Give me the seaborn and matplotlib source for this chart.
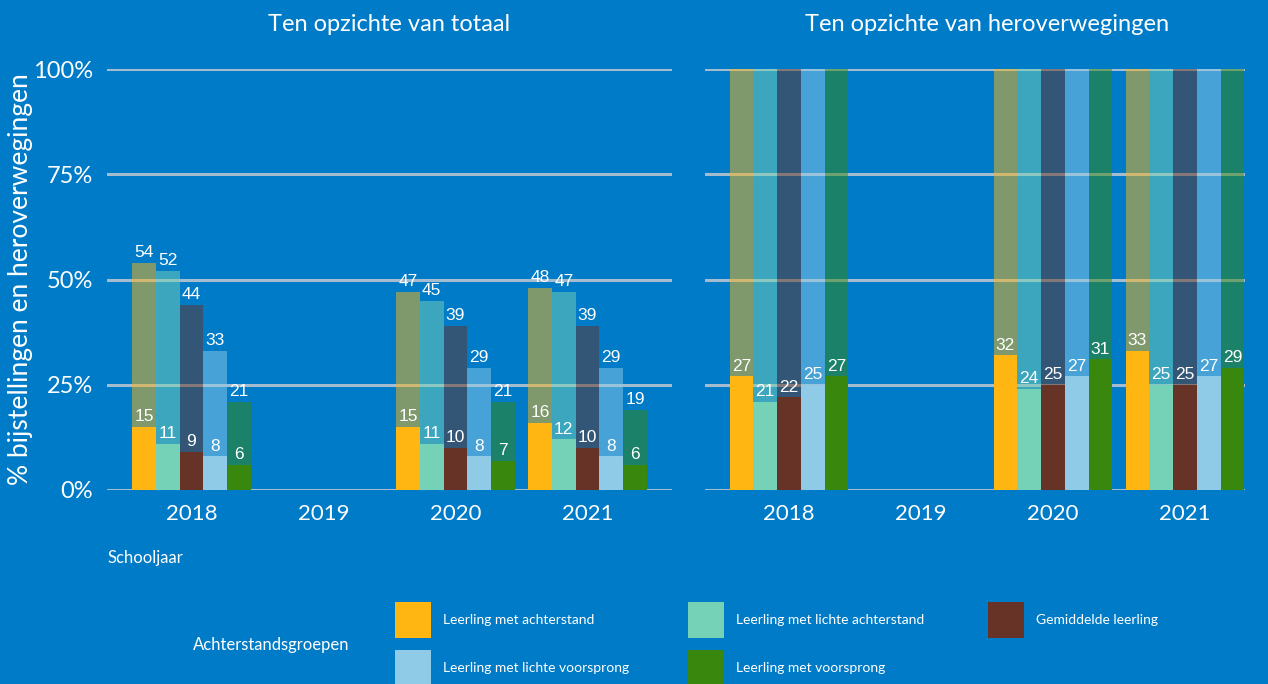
import pandas as pd
import matplotlib.pyplot as plt
import seaborn as sns
from matplotlib.patches import Rectangle

# Data
years = ["2018", "2019", "2020", "2021"]
groups = ["Leerling met achterstand", "Leerling met lichte achterstand", "Gemiddelde leerling",
          "Leerling met lichte voorsprong", "Leerling met voorsprong"]
colors = ["#ffb612", "#76d2b6", "#673327", "#8fcae7", "#39870c"]

data_years = ["2018", "2020", "2021"]
# left panel: % heroverwegingen (total) and % bijstellingen, of all pupils
total_left = {"2018": [54, 52, 44, 33, 21], "2020": [47, 45, 39, 29, 21], "2021": [48, 47, 39, 29, 19]}
adj_left = {"2018": [15, 11, 9, 8, 6], "2020": [15, 11, 10, 8, 7], "2021": [16, 12, 10, 8, 6]}
# right panel: relative to reconsiderations
total_right = {"2018": [100] * 5, "2020": [100] * 5, "2021": [100] * 5}
adj_right = {"2018": [27, 21, 22, 25, 27], "2020": [32, 24, 25, 27, 31], "2021": [33, 25, 25, 27, 29]}

bg = "#007bc7"
grid_col = "#a3bccf"


def to_df(d):
    rows = []
    for y in data_years:
        for g, v in zip(groups, d[y]):
            rows.append({"Jaar": y, "Groep": g, "Waarde": v})
    return pd.DataFrame(rows)


sns.set_theme(style="white")
plt.rcParams["font.family"] = ["Lato", "DejaVu Sans"]

fig = plt.figure(figsize=(12.68, 6.84), dpi=100, facecolor=bg)
ax1 = fig.add_axes([107 / 1268, 1 - 490 / 684, 565 / 1268, 421 / 684])
ax2 = fig.add_axes([705 / 1268, 1 - 490 / 684, 540 / 1268, 421 / 684])

panels = [
    (ax1, total_left, adj_left, "Ten opzichte van totaal", True, (-0.64, 3.64), 0.5),
    (ax2, total_right, adj_right, "Ten opzichte van heroverwegingen", False, (-0.636, 3.455), 0.522),
]

for ax, tot, adj, title, label_tot, xlim, tx in panels:
    ax.set_facecolor(bg)
    sns.barplot(data=to_df(tot), x="Jaar", y="Waarde", hue="Groep", order=years, hue_order=groups,
                palette=colors, width=0.9, alpha=0.5, saturation=1, legend=False, ax=ax)
    n_tot = len(ax.containers)
    sns.barplot(data=to_df(adj), x="Jaar", y="Waarde", hue="Groep", order=years, hue_order=groups,
                palette=colors, width=0.9, saturation=1, legend=False, ax=ax)
    for i, cont in enumerate(ax.containers):
        for b in cont:
            b.set_linewidth(0)
        if i < n_tot and not label_tot:
            continue
        ax.bar_label(cont, fmt="%.0f", padding=2, color="white", fontsize=12.5,
                     family="Liberation Sans")

    ax.set_ylim(0, 100)
    ax.set_xlim(*xlim)
    ax.set_yticks([0, 25, 50, 75, 100])
    ax.yaxis.grid(True, color=grid_col, linewidth=2.2)
    ax.set_axisbelow(True)
    for s in ax.spines.values():
        s.set_visible(False)
    ax.set_xlabel("")
    ax.set_ylabel("")
    ax.tick_params(axis="x", colors="white", length=6, width=2, labelsize=16, pad=4)
    ax.tick_params(axis="y", length=0, colors="white", labelsize=17, pad=10)
    ax.set_title(title, color="white", fontsize=17, x=tx, y=1.07)

ax1.set_yticklabels(["0%", "25%", "50%", "75%", "100%"])
ax2.set_yticklabels([])
ax1.set_ylabel("% bijstellingen en heroverwegingen", color="white", fontsize=19, labelpad=0)

fig.text(107 / 1268, 1 - 558 / 684, "Schooljaar", color="white", fontsize=12, va="center")
fig.text(193 / 1268, 1 - 645 / 684, "Achterstandsgroepen", color="white", fontsize=12, va="center")

# legend, laid out row by row
legend_pos = [(395, 620), (688, 620), (988, 620), (395, 668), (688, 668)]
for (px, py), g, c in zip(legend_pos, groups, colors):
    fig.add_artist(Rectangle((px / 1268, (684 - py - 18) / 684), 36 / 1268, 36 / 684,
                             transform=fig.transFigure, facecolor=c, edgecolor="none"))
    fig.text((px + 48) / 1268, 1 - py / 684, g, color="white", fontsize=10, va="center")

fig.savefig("out.png", dpi=100, facecolor=bg)
